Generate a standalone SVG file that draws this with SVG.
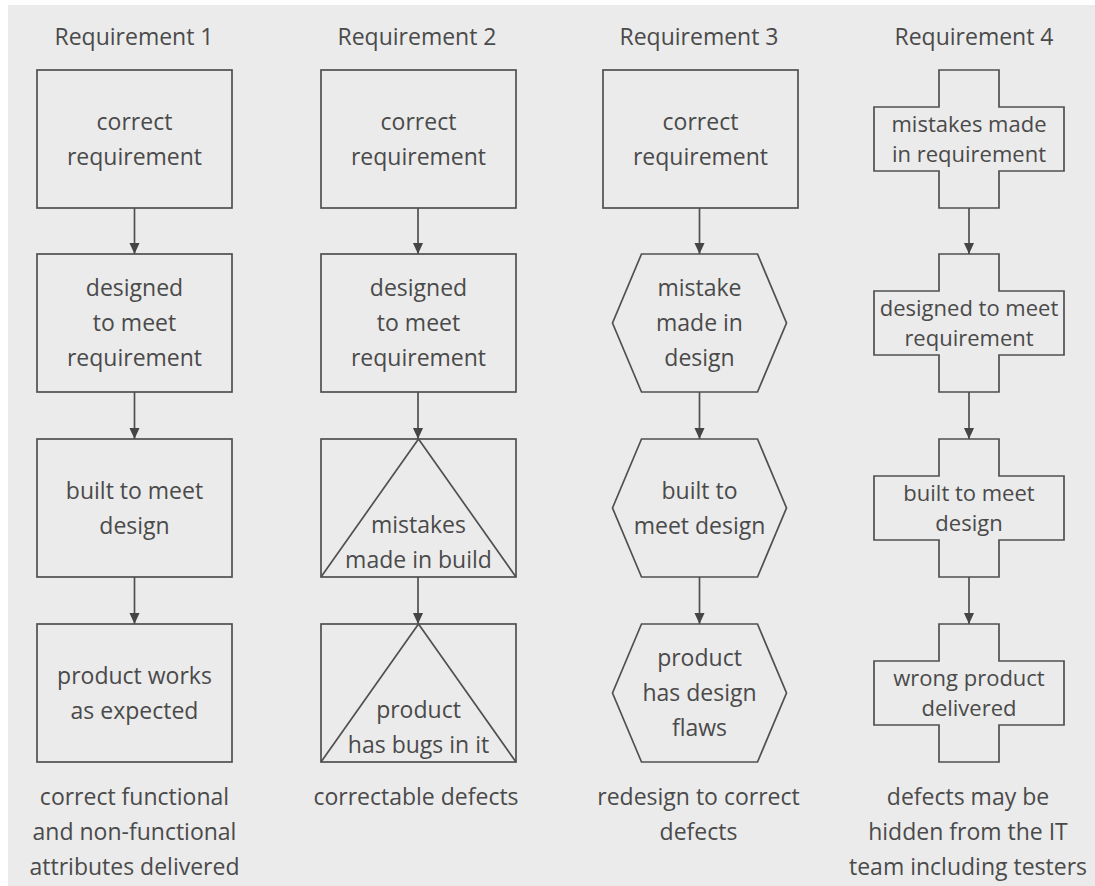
<svg xmlns="http://www.w3.org/2000/svg" width="1095" height="886" viewBox="0 0 1095 886">
<style>
.bg{fill:#ebebeb}
.s{fill:none;stroke:#505050;stroke-width:1.7}
.c{stroke:#505050;stroke-width:1.7;fill:none}
text{font-family:"Open Sans","Noto Sans","Liberation Sans",sans-serif;font-size:23px;fill:#4a4a4a;text-anchor:middle}
.x{font-size:22px}
</style>
<defs>
<marker id="ah" markerUnits="userSpaceOnUse" markerWidth="11" markerHeight="12" viewBox="0 0 12 11" refX="12" refY="5.5" orient="auto">
<path d="M0,0 L12,5.5 L0,11 z" fill="#454545"/>
</marker>
</defs>
<rect width="1095" height="886" fill="#ffffff"/>
<rect class="bg" x="8" y="5" width="1087" height="881"/>

<g id="headers">
<text x="134" y="45">Requirement 1</text>
<text x="417" y="45">Requirement 2</text>
<text x="699" y="45">Requirement 3</text>
<text x="974" y="45">Requirement 4</text>
</g>

<g id="connectors">
<line class="c" x1="134.5" y1="208" x2="134.5" y2="254" marker-end="url(#ah)"/>
<line class="c" x1="134.5" y1="392" x2="134.5" y2="439" marker-end="url(#ah)"/>
<line class="c" x1="134.5" y1="577" x2="134.5" y2="624" marker-end="url(#ah)"/>
<line class="c" x1="418" y1="208" x2="418" y2="254" marker-end="url(#ah)"/>
<line class="c" x1="418" y1="392" x2="418" y2="439" marker-end="url(#ah)"/>
<line class="c" x1="418" y1="577" x2="418" y2="624" marker-end="url(#ah)"/>
<line class="c" x1="699.5" y1="208" x2="699.5" y2="254" marker-end="url(#ah)"/>
<line class="c" x1="699.5" y1="392" x2="699.5" y2="439" marker-end="url(#ah)"/>
<line class="c" x1="699.5" y1="577" x2="699.5" y2="624" marker-end="url(#ah)"/>
<line class="c" x1="969" y1="208" x2="969" y2="254" marker-end="url(#ah)"/>
<line class="c" x1="969" y1="392" x2="969" y2="439" marker-end="url(#ah)"/>
<line class="c" x1="969" y1="577" x2="969" y2="624" marker-end="url(#ah)"/>
</g>

<!-- Column 1 -->
<g id="r1-correct">
<rect class="s" x="37" y="70" width="195" height="138"/>
<text x="134.5" y="129.5">correct</text>
<text x="134.5" y="164.5">requirement</text>
</g>
<g id="r1-designed">
<rect class="s" x="37" y="254" width="195" height="138"/>
<text x="134.5" y="296">designed</text>
<text x="134.5" y="331">to meet</text>
<text x="134.5" y="366">requirement</text>
</g>
<g id="r1-built">
<rect class="s" x="37" y="439" width="195" height="138"/>
<text x="134.5" y="498.5">built to meet</text>
<text x="134.5" y="533.5">design</text>
</g>
<g id="r1-product">
<rect class="s" x="37" y="624" width="195" height="138"/>
<text x="134.5" y="683.5">product works</text>
<text x="134.5" y="718.5">as expected</text>
</g>
<g id="r1-result">
<text x="134.5" y="805">correct functional</text>
<text x="134.5" y="840">and non-functional</text>
<text x="134.5" y="875">attributes delivered</text>
</g>

<!-- Column 2 -->
<g id="r2-correct">
<rect class="s" x="321" y="70" width="195" height="138"/>
<text x="418.5" y="129.5">correct</text>
<text x="418.5" y="164.5">requirement</text>
</g>
<g id="r2-designed">
<rect class="s" x="321" y="254" width="195" height="138"/>
<text x="418.5" y="296">designed</text>
<text x="418.5" y="331">to meet</text>
<text x="418.5" y="366">requirement</text>
</g>
<g id="r2-mistakes">
<rect class="s" x="321" y="439" width="195" height="138"/>
<path class="s" d="M321,577 L418.5,439 L516,577"/>
<text x="418.5" y="533">mistakes</text>
<text x="418.5" y="568">made in build</text>
</g>
<g id="r2-product">
<rect class="s" x="321" y="624" width="195" height="138"/>
<path class="s" d="M321,762 L418.5,624 L516,762"/>
<text x="418.5" y="718">product</text>
<text x="418.5" y="753">has bugs in it</text>
</g>
<g id="r2-result">
<text x="416" y="805">correctable defects</text>
</g>

<!-- Column 3 -->
<g id="r3-correct">
<rect class="s" x="603" y="70" width="195" height="138"/>
<text x="700.5" y="129.5">correct</text>
<text x="700.5" y="164.5">requirement</text>
</g>
<g id="r3-mistake">
<polygon class="s" points="641.5,254 757.5,254 786.5,323 757.5,392 641.5,392 612.5,323"/>
<text x="699.5" y="296">mistake</text>
<text x="699.5" y="331">made in</text>
<text x="699.5" y="366">design</text>
</g>
<g id="r3-built">
<polygon class="s" points="641.5,439 757.5,439 786.5,508 757.5,577 641.5,577 612.5,508"/>
<text x="699.5" y="498.5">built to</text>
<text x="699.5" y="533.5">meet design</text>
</g>
<g id="r3-product">
<polygon class="s" points="641.5,624 757.5,624 786.5,693 757.5,762 641.5,762 612.5,693"/>
<text x="699.5" y="666">product</text>
<text x="699.5" y="701">has design</text>
<text x="699.5" y="736">flaws</text>
</g>
<g id="r3-result">
<text x="698.5" y="805">redesign to correct</text>
<text x="698.5" y="840">defects</text>
</g>

<!-- Column 4 -->
<g id="r4-mistakes">
<path class="s" d="M939,70 H999 V107 H1064 V171 H999 V208 H939 V171 H874 V107 H939 Z"/>
<text class="x" x="969" y="132">mistakes made</text>
<text class="x" x="969" y="162">in requirement</text>
</g>
<g id="r4-designed">
<path class="s" d="M939,254 H999 V291 H1064 V355 H999 V392 H939 V355 H874 V291 H939 Z"/>
<text class="x" x="969" y="316">designed to meet</text>
<text class="x" x="969" y="346">requirement</text>
</g>
<g id="r4-built">
<path class="s" d="M939,439 H999 V476 H1064 V540 H999 V577 H939 V540 H874 V476 H939 Z"/>
<text class="x" x="969" y="501">built to meet</text>
<text class="x" x="969" y="531">design</text>
</g>
<g id="r4-wrong">
<path class="s" d="M939,624 H999 V661 H1064 V725 H999 V762 H939 V725 H874 V661 H939 Z"/>
<text class="x" x="969" y="686">wrong product</text>
<text class="x" x="969" y="716">delivered</text>
</g>
<g id="r4-result">
<text x="968" y="805">defects may be</text>
<text x="968" y="840">hidden from the IT</text>
<text x="968" y="875">team including testers</text>
</g>
</svg>
